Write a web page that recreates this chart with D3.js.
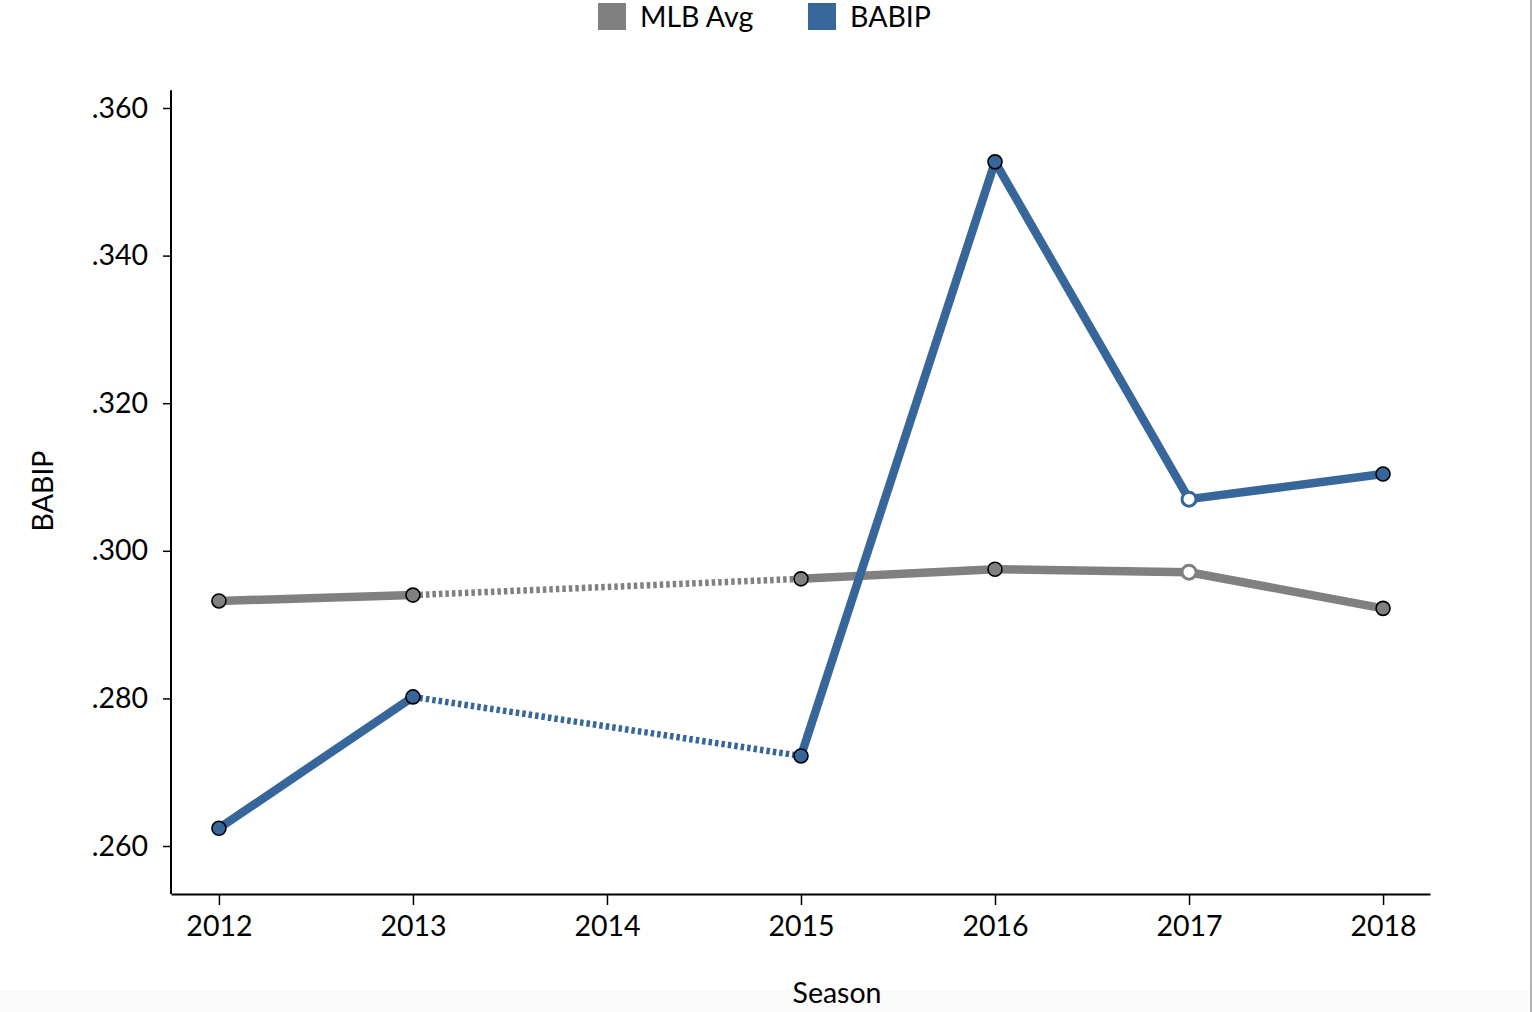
<!DOCTYPE html>
<html>
<head>
<meta charset="utf-8">
<script src="https://cdn.jsdelivr.net/npm/d3@7"></script>
<style>
  body { margin: 0; background: #fff; overflow: hidden; }
  svg { display: block; font-family: Lato, "Open Sans", sans-serif; }
</style>
</head>
<body>
<svg id="chart" width="1532" height="1012"></svg>
<script>
// dati
const seasons = [2012, 2013, 2015, 2016, 2017, 2018];
const mlbAvg = [0.2932, 0.2940, 0.2962, 0.2975, 0.2971, 0.2922];
const babip = [0.2624, 0.2802, 0.2722, 0.3527, 0.3070, 0.3104];
const xTicks = [2012, 2013, 2014, 2015, 2016, 2017, 2018];
const yTicks = [0.26, 0.28, 0.30, 0.32, 0.34, 0.36];
const hollowSeason = 2017;

const series = [
    { name: "MLB Avg", values: mlbAvg, color: "#808080" },
    { name: "BABIP", values: babip, color: "#37679a" }
];

const FS = 28.5;
const svg = d3.select("#chart");

// sfondo in basso e bordo destro
svg.append("rect").attr("x", 0).attr("y", 990).attr("width", 1532).attr("height", 22).attr("fill", "#fbfbfb");
svg.append("line").attr("x1", 1531).attr("x2", 1531).attr("y1", 0).attr("y2", 1012)
    .attr("stroke", "#999").attr("stroke-width", 1.5);

const x = d3.scaleLinear().domain([2011.753, 2018.242]).range([171, 1430]);
const y = d3.scaleLinear().domain([0.26, 0.36]).range([846, 108]);

// assi
const xAxis = svg.append("g")
    .attr("transform", "translate(0,894)")
    .call(d3.axisBottom(x).tickValues(xTicks).tickFormat(d3.format("d")).tickSize(11).tickSizeOuter(0));
xAxis.select(".domain").attr("stroke", "#000").attr("stroke-width", 2);
xAxis.selectAll(".tick line").attr("stroke", "#000").attr("stroke-width", 1.5);
xAxis.selectAll(".tick text").attr("font-size", FS).attr("font-family", "Lato").attr("fill", "#000").attr("dy", "0.98em");

const yAxis = svg.append("g")
    .attr("transform", "translate(171,0)")
    .call(d3.axisLeft(y).tickValues(yTicks).tickFormat(d => d3.format(".3f")(d).replace(/^0/, "")).tickSize(8).tickSizeOuter(0));
yAxis.select(".domain").attr("d", "M0," + y(0.3624) + "V894").attr("stroke", "#000").attr("stroke-width", 2);
yAxis.selectAll(".tick line").attr("stroke", "#000").attr("stroke-width", 1.5);
yAxis.selectAll(".tick text").attr("font-size", FS).attr("font-family", "Lato").attr("fill", "#000").attr("x", -23);

// titoli assi
svg.append("text").attr("x", 837).attr("y", 1003).attr("text-anchor", "middle")
    .attr("font-size", FS).attr("fill", "#000").text("Season");
svg.append("text").attr("transform", "translate(53,491) rotate(-90)").attr("text-anchor", "middle")
    .attr("font-size", FS).attr("fill", "#000").text("BABIP");

// linee
const line = d3.line().x(d => x(d[0])).y(d => y(d[1]));

series.forEach(s => {
    const pts = seasons.map((yr, i) => [yr, s.values[i]]);
    const g = svg.append("g");
    for (let i = 0; i < pts.length - 1; i++) {
        const gap = pts[i + 1][0] - pts[i][0] > 1;
        g.append("path")
            .attr("d", line([pts[i], pts[i + 1]]))
            .attr("fill", "none")
            .attr("stroke", s.color)
            .attr("stroke-width", gap ? 6.5 : 8.5)
            .attr("stroke-dasharray", gap ? "3.5,3" : null);
    }
    g.selectAll("circle")
        .data(pts)
        .enter()
        .append("circle")
        .attr("cx", d => x(d[0]))
        .attr("cy", d => y(d[1]))
        .attr("r", 7)
        .attr("fill", d => d[0] === hollowSeason ? "#fff" : s.color)
        .attr("stroke", d => d[0] === hollowSeason ? s.color : "#000")
        .attr("stroke-width", d => d[0] === hollowSeason ? 3 : 1.6);
});

// legenda
const legendX = [598, 808];
series.forEach((s, i) => {
    svg.append("rect").attr("x", legendX[i]).attr("y", 3).attr("width", 28).attr("height", 27).attr("fill", s.color);
    svg.append("text").attr("x", legendX[i] + 42).attr("y", 27).attr("font-size", FS).attr("fill", "#000").text(s.name);
});
</script>
</body>
</html>
